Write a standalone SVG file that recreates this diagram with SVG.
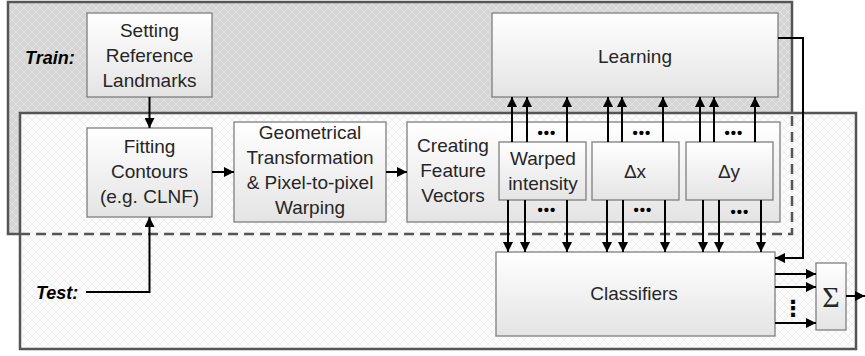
<svg xmlns="http://www.w3.org/2000/svg" width="865" height="356" viewBox="0 0 865 356">
<defs>
<pattern id="hatchTrain" width="8" height="8" patternUnits="userSpaceOnUse">
<rect width="8" height="8" fill="#d5d5d5"/>
<path d="M0,0 L8,8 M8,0 L0,8" stroke="#e2e2e2" stroke-width="1"/>
</pattern>
<pattern id="hatchTest" width="8" height="8" patternUnits="userSpaceOnUse">
<rect width="8" height="8" fill="#fbfbfb"/>
<path d="M0,0 L8,8 M8,0 L0,8" stroke="#efefef" stroke-width="1"/>
</pattern>
<linearGradient id="boxGrad" x1="0" y1="0" x2="0" y2="1">
<stop offset="0" stop-color="#ffffff"/>
<stop offset="1" stop-color="#e4e4e4"/>
</linearGradient>
<marker id="arr" viewBox="0 0 10 10" refX="10" refY="5" markerWidth="5" markerHeight="5" orient="auto" markerUnits="strokeWidth">
<path d="M0,0 L10,5 L0,10 z" fill="#000"/>
</marker>
<style>
.box{fill:url(#boxGrad);stroke:#7f7f7f;stroke-width:1.3}
.t{font-family:"Liberation Sans",Arial,sans-serif;font-size:19px;fill:#262626;text-anchor:middle}
.lbl{font-family:"Liberation Sans",Arial,sans-serif;font-size:18px;font-weight:bold;font-style:italic;fill:#000}
.dots{font-family:"Liberation Sans",Arial,sans-serif;font-size:15px;font-weight:bold;fill:#000;text-anchor:middle;letter-spacing:1px}
.c{fill:none;stroke:#000;stroke-width:2}
.ca{fill:none;stroke:#000;stroke-width:2;marker-end:url(#arr)}
</style>
</defs>

<g id="train-region">
<rect x="8" y="2" width="784" height="232" fill="url(#hatchTrain)" stroke="#555" stroke-width="2.5"/>
<text class="lbl" x="25" y="64">Train:</text>
</g>
<g id="test-region">
<rect x="20" y="113" width="836" height="236" fill="url(#hatchTest)" stroke="#555" stroke-width="2.5"/>
<path d="M20,234 H792 V113" fill="none" stroke="#555" stroke-width="2.5" stroke-dasharray="10,6"/>
<text class="lbl" x="36" y="299">Test:</text>
</g>

<g id="setting">
<rect class="box" x="87" y="13" width="125" height="84"/>
<text class="t" x="149.5" y="37">Setting</text>
<text class="t" x="149.5" y="62">Reference</text>
<text class="t" x="149.5" y="87">Landmarks</text>
</g>
<g id="learning">
<rect class="box" x="492" y="13" width="286" height="84"/>
<text class="t" x="635" y="63">Learning</text>
</g>
<g id="fitting">
<rect class="box" x="87" y="128" width="125" height="89"/>
<text class="t" x="149.5" y="153">Fitting</text>
<text class="t" x="149.5" y="178">Contours</text>
<text class="t" x="149.5" y="203">(e.g. CLNF)</text>
</g>
<g id="geometrical">
<rect class="box" x="234" y="122" width="152" height="100"/>
<text class="t" x="310" y="139">Geometrical</text>
<text class="t" x="310" y="164">Transformation</text>
<text class="t" x="310" y="189">&amp; Pixel-to-pixel</text>
<text class="t" x="310" y="214">Warping</text>
</g>
<g id="creating">
<rect class="box" x="407" y="122" width="373" height="100"/>
<text class="t" x="453" y="152">Creating</text>
<text class="t" x="453" y="177">Feature</text>
<text class="t" x="453" y="202">Vectors</text>
</g>
<g id="warped">
<rect class="box" x="499" y="142" width="87" height="58"/>
<text class="t" x="543" y="165">Warped</text>
<text class="t" x="543" y="190">intensity</text>
</g>
<g id="dx">
<rect class="box" x="592" y="142" width="87" height="58"/>
<text class="t" x="635" y="178">Δx</text>
</g>
<g id="dy">
<rect class="box" x="686" y="142" width="87" height="58"/>
<text class="t" x="729" y="178">Δy</text>
</g>
<g id="classifiers">
<rect class="box" x="496" y="252" width="279" height="84"/>
<text class="t" x="634" y="300">Classifiers</text>
</g>
<g id="sum">
<rect class="box" x="816" y="263" width="30" height="67"/>
<text x="831" y="307" font-family="'Liberation Serif','DejaVu Serif',serif" font-size="30" fill="#262626" text-anchor="middle">Σ</text>
</g>

<g id="connectors">
<path class="ca" d="M149.5,97 V128"/>
<path class="ca" d="M86,292 H149.5 V217"/>
<path class="ca" d="M212,172 H234"/>
<path class="ca" d="M386,172 H407"/>
<path class="ca" d="M778,38 H803 V258 H775"/>
<path class="ca" d="M512,142 V97"/>
<path class="ca" d="M527,142 V97"/>
<path class="ca" d="M567,142 V97"/>
<path class="ca" d="M608,142 V97"/>
<path class="ca" d="M622,142 V97"/>
<path class="ca" d="M663,142 V97"/>
<path class="ca" d="M700,142 V97"/>
<path class="ca" d="M714,142 V97"/>
<path class="ca" d="M755,142 V97"/>
<path class="ca" d="M508,200 V252"/>
<path class="ca" d="M525,200 V252"/>
<path class="ca" d="M567,200 V252"/>
<path class="ca" d="M607,200 V252"/>
<path class="ca" d="M623,200 V252"/>
<path class="ca" d="M665,200 V252"/>
<path class="ca" d="M703,200 V252"/>
<path class="ca" d="M719,200 V252"/>
<path class="ca" d="M761,200 V252"/>
<path class="ca" d="M775,274 H816"/>
<path class="ca" d="M775,287 H816"/>
<path class="ca" d="M775,323 H816"/>
<path class="ca" d="M846,296 H865"/>
<text class="dots" x="547" y="138">•••</text>
<text class="dots" x="642" y="138">•••</text>
<text class="dots" x="734" y="138">•••</text>
<text class="dots" x="547" y="215">•••</text>
<text class="dots" x="643" y="215">•••</text>
<text class="dots" x="740" y="217">•••</text>
<text x="793" y="316" font-family="'DejaVu Sans',sans-serif" font-size="22" font-weight="bold" fill="#000" text-anchor="middle">⋮</text>
</g>
</svg>
